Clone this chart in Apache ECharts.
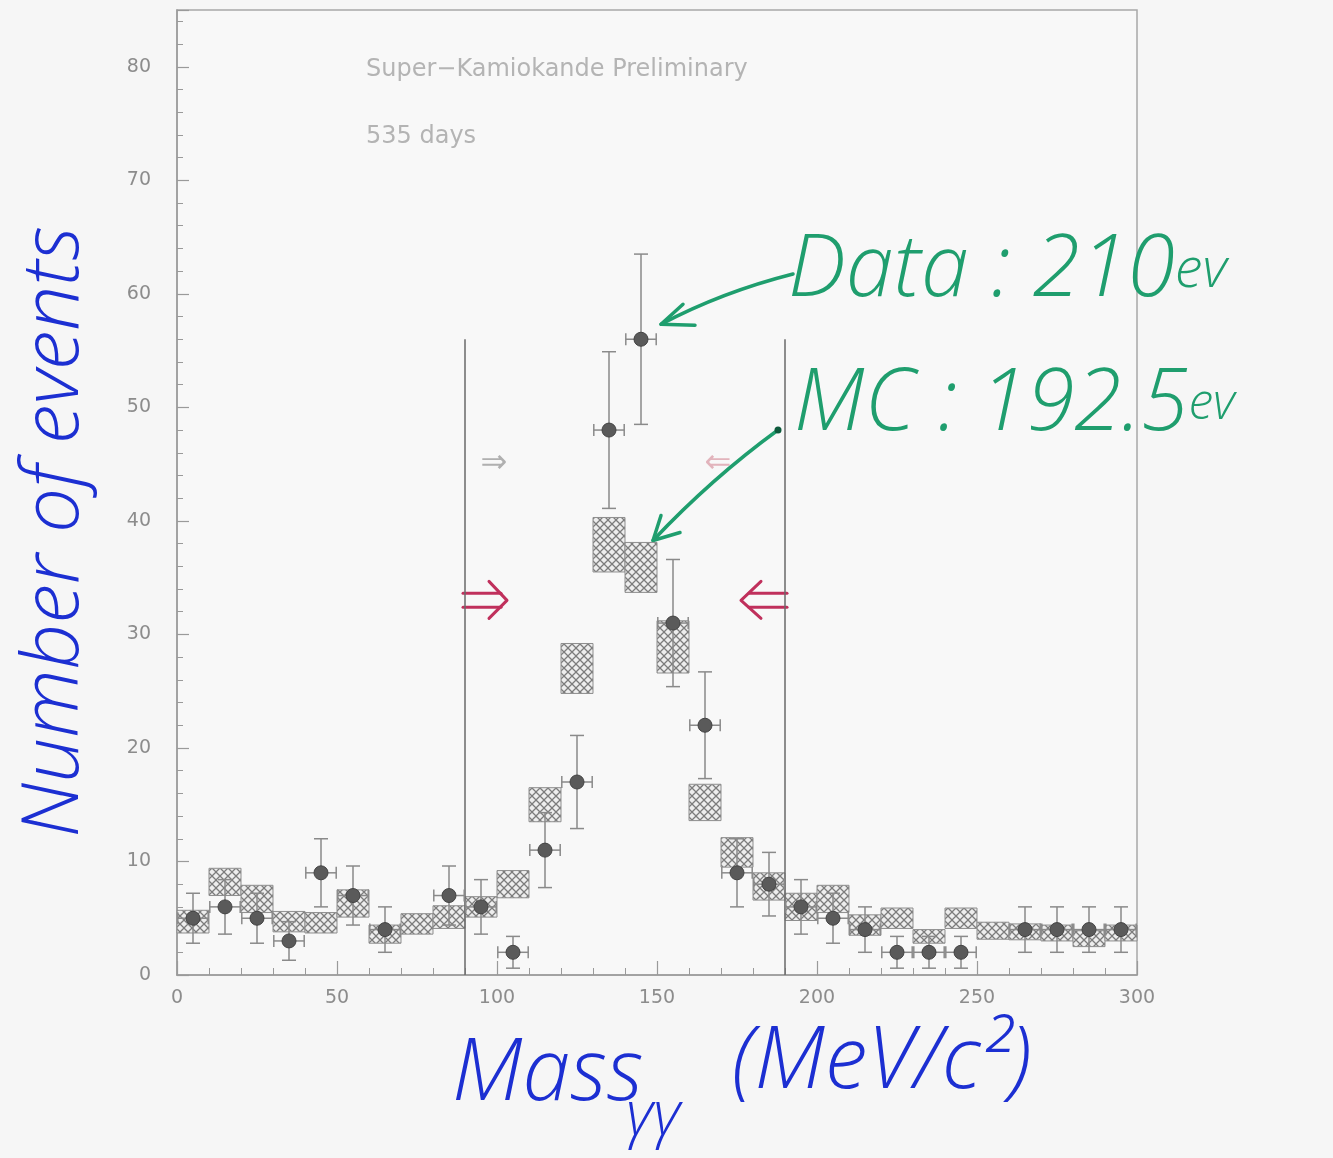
<!DOCTYPE html>
<html>
<head>
<meta charset="utf-8">
<script src="https://cdn.jsdelivr.net/npm/echarts@6/dist/echarts.min.js"></script>
<style>
  html, body { margin: 0; padding: 0; background: #f6f6f6; }
  #chart { width: 1333px; height: 1158px; }
</style>
</head>
<body>
<div id="chart"></div>
<script>
// γγ invariant mass histogram: 10 MeV/c² bins from 0 to 300
const binCenters = [5, 15, 25, 35, 45, 55, 65, 75, 85, 95, 105, 115, 125, 135, 145,
                    155, 165, 175, 185, 195, 205, 215, 225, 235, 245, 255, 265, 275, 285, 295];
const binHalfWidth = 5;

// Observed events per bin (null = empty bin) and their error bars
const dataCounts = [5, 6, 5, 3, 9, 7, 4, null, 7, 6, 2, 11, 17, 48, 56,
                    31, 22, 9, 8, 6, 5, 4, 2, 2, 2, null, 4, 4, 4, 4];
const dataErrors = [2.2, 2.4, 2.2, 1.7, 3.0, 2.6, 2.0, null, 2.6, 2.4, 1.4, 3.3, 4.1, 6.9, 7.5,
                    5.6, 4.7, 3.0, 2.8, 2.4, 2.2, 2.0, 1.4, 1.4, 1.4, null, 2.0, 2.0, 2.0, 2.0];

// Monte Carlo expectation per bin and its uncertainty (box half-height)
const mcCounts = [4.7, 8.2, 6.7, 4.7, 4.6, 6.3, 3.6, 4.5, 5.1, 6.0, 8.0, 15.0, 27.0, 37.9, 35.9,
                  28.9, 15.2, 10.8, 7.8, 6.0, 6.7, 4.4, 5.0, 3.4, 5.0, 3.9, 3.8, 3.7, 3.2, 3.7];
const mcErrors = [1.0, 1.2, 1.2, 0.9, 0.9, 1.2, 0.8, 0.9, 1.0, 0.9, 1.2, 1.5, 2.2, 2.4, 2.2,
                  2.3, 1.6, 1.3, 1.2, 1.2, 1.2, 0.9, 0.9, 0.6, 0.9, 0.75, 0.7, 0.7, 0.7, 0.7];

// π0 mass window cut and the height of its marker lines
const cutWindow = [90, 190];
const cutLineTop = 56;

const round1 = v => Math.round(v * 10) / 10;
const inWindow = x => x > cutWindow[0] && x < cutWindow[1];
const dataInWindow = round1(binCenters.reduce((s, x, i) => s + (inWindow(x) && dataCounts[i] != null ? dataCounts[i] : 0), 0));
const mcInWindow = round1(binCenters.reduce((s, x, i) => s + (inWindow(x) ? mcCounts[i] : 0), 0));

const dataSeries = binCenters.map((x, i) => [x, dataCounts[i], dataErrors[i]]).filter(d => d[1] != null);
const mcSeries = binCenters.map((x, i) => [x, mcCounts[i], mcErrors[i]]);

// Cross-hatched fill used for the MC boxes
function hatchTile() {
  const c = document.createElement('canvas');
  c.width = c.height = 8;
  const g = c.getContext('2d');
  g.fillStyle = '#ededed';
  g.fillRect(0, 0, 8, 8);
  g.strokeStyle = '#7c7c7c';
  g.lineWidth = 1.3;
  g.beginPath();
  g.moveTo(-1, -1); g.lineTo(9, 9);
  g.moveTo(9, -1); g.lineTo(-1, 9);
  g.stroke();
  return c;
}
const hatch = hatchTile();

const axisGray = '#9a9a9a';
const labelGray = '#8c8c8c';
const tickFont = 'DejaVu Sans';

const chart = echarts.init(document.getElementById('chart'), null, { renderer: 'canvas' });

chart.setOption({
  backgroundColor: '#f6f6f6',
  animation: false,
  grid: {
    left: 177, right: 196, top: 10, bottom: 183,
    show: true, borderColor: '#a8a8a8', borderWidth: 1.5, backgroundColor: '#f8f8f8'
  },
  xAxis: {
    type: 'value', min: 0, max: 300, interval: 50,
    axisLine: { onZero: false, lineStyle: { color: axisGray, width: 1.5 } },
    axisTick: { inside: true, length: 14, lineStyle: { color: axisGray, width: 1.2 } },
    minorTick: { show: true, splitNumber: 5, length: 7, lineStyle: { color: axisGray, width: 1 } },
    axisLabel: { color: labelGray, fontSize: 19, fontFamily: tickFont, margin: 14 },
    splitLine: { show: false }
  },
  yAxis: {
    type: 'value', min: 0, max: 85, interval: 10,
    axisLine: { onZero: false, lineStyle: { color: axisGray, width: 1.5 } },
    axisTick: { inside: true, length: 12, lineStyle: { color: axisGray, width: 1.2 } },
    minorTick: { show: true, splitNumber: 5, length: 6, lineStyle: { color: axisGray, width: 1 } },
    axisLabel: { color: labelGray, fontSize: 19, fontFamily: tickFont, margin: 26, showMaxLabel: false },
    splitLine: { show: false }
  },
  series: [
    {
      // MC expectation boxes
      type: 'custom', name: 'MC', data: mcSeries, z: 2,
      renderItem(params, api) {
        const x = api.value(0), v = api.value(1), e = api.value(2);
        const p0 = api.coord([x - binHalfWidth, v + e]);
        const p1 = api.coord([x + binHalfWidth, v - e]);
        return {
          type: 'rect',
          shape: { x: p0[0], y: p0[1], width: p1[0] - p0[0], height: p1[1] - p0[1] },
          style: { fill: { image: hatch, repeat: 'repeat' }, stroke: '#8e8e8e', lineWidth: 1 }
        };
      }
    },
    {
      // mass window cut lines
      type: 'custom', name: 'cut', data: cutWindow.map(x => [x, cutLineTop]), z: 3,
      renderItem(params, api) {
        const a = api.coord([api.value(0), 0]);
        const b = api.coord([api.value(0), api.value(1)]);
        return {
          type: 'line',
          shape: { x1: a[0], y1: a[1], x2: b[0], y2: b[1] },
          style: { stroke: '#6a6a6a', lineWidth: 1.5 }
        };
      }
    },
    {
      // data points with vertical and horizontal error bars
      type: 'custom', name: 'Data', data: dataSeries, z: 4,
      renderItem(params, api) {
        const x = api.value(0), v = api.value(1), e = api.value(2);
        const c = api.coord([x, v]);
        const top = api.coord([x, v + e]);
        const bot = api.coord([x, Math.max(0, v - e)]);
        const l = api.coord([x - binHalfWidth * 0.95, v]);
        const r = api.coord([x + binHalfWidth * 0.95, v]);
        const st = { stroke: '#8a8a8a', lineWidth: 1.5 };
        const cap = 7, vcap = 6;
        return {
          type: 'group',
          children: [
            { type: 'line', shape: { x1: c[0], y1: top[1], x2: c[0], y2: bot[1] }, style: st },
            { type: 'line', shape: { x1: c[0] - cap, y1: top[1], x2: c[0] + cap, y2: top[1] }, style: st },
            { type: 'line', shape: { x1: c[0] - cap, y1: bot[1], x2: c[0] + cap, y2: bot[1] }, style: st },
            { type: 'line', shape: { x1: l[0], y1: c[1], x2: r[0], y2: c[1] }, style: st },
            { type: 'line', shape: { x1: l[0], y1: c[1] - vcap, x2: l[0], y2: c[1] + vcap }, style: st },
            { type: 'line', shape: { x1: r[0], y1: c[1] - vcap, x2: r[0], y2: c[1] + vcap }, style: st },
            { type: 'circle', shape: { cx: c[0], cy: c[1], r: 7 }, style: { fill: '#5a5a5a', stroke: '#444', lineWidth: 1 } }
          ]
        };
      }
    }
  ]
});

// annotations placed relative to the plotted values
const px = (x, y) => chart.convertToPixel({ gridIndex: 0 }, [x, y]);
const peakIdx = dataCounts.indexOf(Math.max(...dataCounts.filter(v => v != null)));
const peakPt = px(binCenters[peakIdx], dataCounts[peakIdx]);
const mcCorner = px(binCenters[peakIdx] + binHalfWidth, mcCounts[peakIdx] + mcErrors[peakIdx]);
const leftCut = px(cutWindow[0], 33);
const rightCut = px(cutWindow[1], 33);
const grayArrow = px(cutWindow[0] + 9, 45);
const faintArrow = px(cutWindow[1] - 21, 45);

const green = '#1f9e6e';
const blue = '#1c2fd2';
const crimson = '#c0305c';
const hand = { fontFamily: 'Open Sans', fontStyle: 'italic', fontWeight: 300 };

const dTip = [peakPt[0] + 20, peakPt[1] - 15];
const mTip = [mcCorner[0] - 4, mcCorner[1] - 2];

chart.setOption({
  graphic: [
    // plot caption
    { type: 'text', left: 366, top: 58, style: { text: 'Super\u2212Kamiokande Preliminary', fill: '#b4b4b4', font: '24px "DejaVu Sans"' } },
    { type: 'text', left: 366, top: 125, style: { text: '535 days', fill: '#b4b4b4', font: '24px "DejaVu Sans"' } },

    // original window arrows
    { type: 'text', x: grayArrow[0], y: grayArrow[1], style: { text: '\u21D2', fill: '#b0b0b0', font: '32px "DejaVu Sans"', align: 'center', verticalAlign: 'middle' } },
    { type: 'text', x: faintArrow[0], y: faintArrow[1], style: { text: '\u21D0', fill: '#e2b4bc', font: '32px "DejaVu Sans"', align: 'center', verticalAlign: 'middle' } },

    // hand-drawn window arrows
    { type: 'polyline', shape: { points: [[leftCut[0] - 2, leftCut[1] - 7], [leftCut[0] + 36, leftCut[1] - 7]] }, style: { stroke: crimson, lineWidth: 3, lineCap: 'round' } },
    { type: 'polyline', shape: { points: [[leftCut[0] - 2, leftCut[1] + 7], [leftCut[0] + 36, leftCut[1] + 7]] }, style: { stroke: crimson, lineWidth: 3, lineCap: 'round' } },
    { type: 'polyline', shape: { points: [[leftCut[0] + 24, leftCut[1] - 19], [leftCut[0] + 42, leftCut[1]], [leftCut[0] + 24, leftCut[1] + 18]] }, style: { stroke: crimson, lineWidth: 3, lineCap: 'round', lineJoin: 'round', fill: null } },
    { type: 'polyline', shape: { points: [[rightCut[0] + 2, rightCut[1] - 7], [rightCut[0] - 36, rightCut[1] - 7]] }, style: { stroke: crimson, lineWidth: 3, lineCap: 'round' } },
    { type: 'polyline', shape: { points: [[rightCut[0] + 2, rightCut[1] + 7], [rightCut[0] - 36, rightCut[1] + 7]] }, style: { stroke: crimson, lineWidth: 3, lineCap: 'round' } },
    { type: 'polyline', shape: { points: [[rightCut[0] - 24, rightCut[1] - 19], [rightCut[0] - 44, rightCut[1]], [rightCut[0] - 24, rightCut[1] + 18]] }, style: { stroke: crimson, lineWidth: 3, lineCap: 'round', lineJoin: 'round', fill: null } },

    // green labels with arrows
    { type: 'text', left: 788, top: 228, style: { rich: { a: { fontSize: 86, ...hand, fill: green }, b: { fontSize: 56, ...hand, fill: green } }, text: '{a|Data : ' + dataInWindow + '}{b|ev}' } },
    { type: 'text', left: 794, top: 362, style: { rich: { a: { fontSize: 86, ...hand, fill: green }, b: { fontSize: 50, ...hand, fill: green } }, text: '{a|MC : ' + mcInWindow + '}{b|ev}' } },
    { type: 'bezierCurve', shape: { x1: 793, y1: 274, cpx1: 722, cpy1: 292, x2: dTip[0], y2: dTip[1] }, style: { stroke: green, lineWidth: 3.5, fill: null, lineCap: 'round' } },
    { type: 'polyline', shape: { points: [[dTip[0] + 22, dTip[1] - 20], dTip, [dTip[0] + 34, dTip[1] + 1]] }, style: { stroke: green, lineWidth: 3.5, lineCap: 'round', lineJoin: 'round', fill: null } },
    { type: 'bezierCurve', shape: { x1: 778, y1: 430, cpx1: 712, cpy1: 478, x2: mTip[0], y2: mTip[1] }, style: { stroke: green, lineWidth: 3.5, fill: null, lineCap: 'round' } },
    { type: 'polyline', shape: { points: [[mTip[0] + 8, mTip[1] - 25], mTip, [mTip[0] + 27, mTip[1] - 8]] }, style: { stroke: green, lineWidth: 3.5, lineCap: 'round', lineJoin: 'round', fill: null } },
    { type: 'circle', shape: { cx: 778, cy: 430, r: 3.5 }, style: { fill: '#0d5a3c' } },

    // hand-written axis titles
    { type: 'text', x: 55, y: 532, rotation: Math.PI / 2, style: { text: 'Number of events', fontSize: 80, ...hand, fill: blue, align: 'center', verticalAlign: 'middle' } },
    { type: 'text', left: 452, top: 1032, style: { text: 'Mass', fontSize: 86, ...hand, fill: blue } },
    { type: 'text', left: 626, top: 1086, style: { text: '\u03B3\u03B3', fontSize: 62, ...hand, fill: blue } },
    { type: 'text', left: 732, top: 1020, style: { text: '(MeV/c\u00B2)', fontSize: 86, ...hand, fill: blue } }
  ]
});
</script>
</body>
</html>
